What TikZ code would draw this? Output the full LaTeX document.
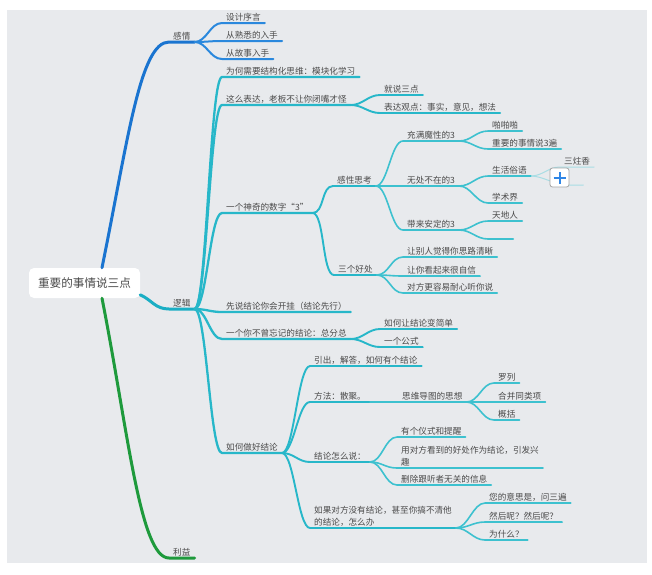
\documentclass[tikz,border=0pt]{standalone}
\usepackage{fontspec}
\newfontfamily\cjk{Noto Sans CJK SC}
\definecolor{bgc}{HTML}{E8EAED}
\definecolor{txt}{HTML}{4A4A4A}
\definecolor{bluemain}{HTML}{1A74D0}
\definecolor{bluesub}{HTML}{2A88DD}
\definecolor{tealmain}{HTML}{1AAEC4}
\definecolor{tealsub}{HTML}{27B7C9}
\definecolor{tealleaf}{HTML}{3DC1CF}
\definecolor{tealfaint}{HTML}{A9DDE4}
\definecolor{greenmain}{HTML}{1E9A3C}
\definecolor{plusblue}{HTML}{2F86E6}
\begin{document}
\begin{tikzpicture}[x=1pt,y=-1pt,
  tp/.style={font=\cjk\fontsize{8.6}{12}\selectfont, text=txt, inner xsep=4pt, inner ysep=1.8pt, anchor=south west},
  rootbox/.style={font=\cjk\fontsize{11.6}{14}\selectfont, text=txt, fill=white, rounded corners=5pt, minimum width=111pt, minimum height=30pt, inner sep=0pt},
  plusbox/.style={draw=black!35, fill=white, rounded corners=2.5pt, minimum width=19pt, minimum height=19pt, inner sep=0pt, line width=0.8pt},
  mainB/.style={draw=bluemain, line width=3pt, line cap=round, line join=round},
  mainT/.style={draw=tealmain, line width=3pt, line cap=round, line join=round},
  mainG/.style={draw=greenmain, line width=3pt, line cap=round, line join=round},
  subB/.style={draw=bluesub, line width=2pt, line cap=round, line join=round},
  lvA/.style={draw=tealsub, line width=2.3pt, line cap=round, line join=round},
  lvB/.style={draw=tealsub, line width=1.9pt, line cap=round, line join=round},
  lvC/.style={draw=tealleaf, line width=1.6pt, line cap=round, line join=round},
  lvF/.style={draw=tealfaint, line width=1pt, line cap=round, line join=round},
]
\useasboundingbox (0,0) rectangle (652,574);
\fill[bgc] (7,10) rectangle (647,563);

% root
\node[rootbox] (root) at (84.5,283) {重要的事情说三点};

% first level
\node[tp] (gq) at (169,42) {感情};
\node[tp] (lj) at (169,309) {逻辑};
\node[tp] (ly) at (169,558) {利益};

% 感情
\node[tp] (gq1) at (222,23) {设计序言};
\node[tp] (gq2) at (222,41) {从熟悉的入手};
\node[tp] (gq3) at (222,59) {从故事入手};

% 逻辑
\node[tp] (a1) at (222,77) {为何需要结构化思维：模块化学习};
\node[tp] (a2) at (222,105) {这么表达，老板不让你闭嘴才怪};
\node[tp] (a21) at (380,95) {就说三点};
\node[tp] (a22) at (380,113) {表达观点：事实，意见，想法};
\node[tp] (a3) at (222,213) {一个神奇的数字“3”};
\node[tp] (b1) at (333,186) {感性思考};
\node[tp] (b11) at (403,141) {充满魔性的3};
\node[tp] (b111) at (488,131) {啪啪啪};
\node[tp] (b112) at (488,149) {重要的事情说3遍};
\node[tp] (b12) at (403,186) {无处不在的3};
\node[tp] (b121) at (488,176) {生活俗语};
\node[tp] (b1211) at (560,167) {三炷香};
\node[tp, minimum width=16pt] (b1212) at (567,185) {};
\node[tp] (b122) at (488,203) {学术界};
\node[tp] (b13) at (403,230) {带来安定的3};
\node[tp] (b131) at (488,221) {天地人};
\node[tp, minimum width=25pt] (b132) at (488,239) {};
\node[tp] (b2) at (334,275) {三个好处};
\node[tp] (b21) at (403,257) {让别人觉得你思路清晰};
\node[tp] (b22) at (403,276) {让你看起来很自信};
\node[tp] (b23) at (403,293) {对方更容易耐心听你说};
\node[tp] (a4) at (222,312) {先说结论你会开挂（结论先行）};
\node[tp] (a5) at (222,339) {一个你不曾忘记的结论：总分总};
\node[tp] (a51) at (380,329) {如何让结论变简单};
\node[tp] (a52) at (380,347) {一个公式};
\node[tp] (a6) at (222,453) {如何做好结论};
\node[tp] (c1) at (310,366) {引出，解答，如何有个结论};
\node[tp] (c2) at (310,402) {方法：散聚。};
\node[tp] (c21) at (398,402) {思维导图的思想};
\node[tp] (c211) at (494,383) {罗列};
\node[tp] (c212) at (494,402) {合并同类项};
\node[tp] (c213) at (494,420) {概括};
\node[tp] (c3) at (310,462) {结论怎么说：};
\node[tp] (c31) at (397,437) {有个仪式和提醒};
\node[tp, align=left] (c32) at (397,468) {用对方看到的好处作为结论，引发兴\\趣};
\node[tp] (c33) at (397,485) {删除跟听者无关的信息};
\node[tp, align=left] (c4) at (310,528) {如果对方没有结论，甚至你搞不清他\\的结论，怎么办};
\node[tp] (c41) at (485,503) {您的意思是，问三遍};
\node[tp] (c42) at (485,522) {然后呢？然后呢？};
\node[tp] (c43) at (485,540) {为什么？};

% main branches from root
\draw[mainB] (root.41) .. controls (128,140) and (140,42) .. (gq.south west) -- (gq.south east);
\draw[mainT] (root.-12) .. controls (152,300) and (155,309) .. (lj.south west) -- (lj.south east);
\draw[mainG] (root.-41) .. controls (128,430) and (140,558) .. (ly.south west) -- (ly.south east);

% faint collapsed children behind the plus box
\foreach \p/\c in {b121/b1211, b121/b1212}
  \draw[lvF] (\p.south east) .. controls +(12,0) and +(-12,0) .. (\c.south west) -- (\c.south east);

% connectors with underlines
\foreach \p/\c/\s in {gq/gq1/subB, gq/gq2/subB, gq/gq3/subB,
  lj/a1/lvA, lj/a2/lvA, lj/a3/lvA, lj/a4/lvA, lj/a5/lvA, lj/a6/lvA,
  a2/a21/lvB, a2/a22/lvB, a3/b1/lvB, a3/b2/lvB, a5/a51/lvB, a5/a52/lvB,
  a6/c1/lvB, a6/c2/lvB, a6/c3/lvB, a6/c4/lvB,
  b1/b11/lvC, b1/b12/lvC, b1/b13/lvC, b11/b111/lvC, b11/b112/lvC,
  b12/b121/lvC, b12/b122/lvC, b13/b131/lvC, b13/b132/lvC,
  b2/b21/lvC, b2/b22/lvC, b2/b23/lvC,
  c2/c21/lvC, c21/c211/lvC, c21/c212/lvC, c21/c213/lvC,
  c3/c31/lvC, c3/c32/lvC, c3/c33/lvC, c4/c41/lvC, c4/c42/lvC, c4/c43/lvC}
  \draw[\s] (\p.south east) .. controls +(12,0) and +(-12,0) .. (\c.south west) -- (\c.south east);

% plus box
\node[plusbox] (plus) at (559.5,177.5) {};
\draw[plusblue, line width=2pt] ([xshift=-6pt]plus.center) -- ([xshift=6pt]plus.center);
\draw[plusblue, line width=2pt] ([yshift=-6pt]plus.center) -- ([yshift=6pt]plus.center);
\end{tikzpicture}
\end{document}
